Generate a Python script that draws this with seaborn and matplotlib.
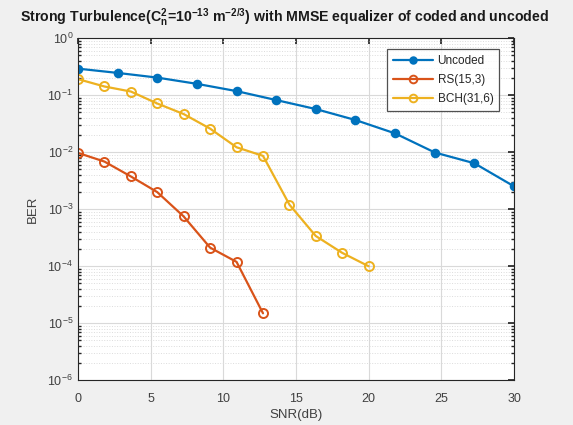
import numpy as np
import pandas as pd
import matplotlib
matplotlib.use("Agg")
import matplotlib.pyplot as plt
import seaborn as sns
from matplotlib.ticker import LogLocator, NullFormatter

snr_uncoded = [0, 2.73, 5.45, 8.18, 10.91, 13.64, 16.36, 19.09, 21.82, 24.55, 27.27, 30]
ber_uncoded = [0.29, 0.244, 0.202, 0.157, 0.117, 0.0815, 0.0567, 0.0364, 0.0212, 0.0098, 0.00635, 0.0025]

snr_rs = [0, 1.82, 3.64, 5.45, 7.27, 9.09, 10.91, 12.73]
ber_rs = [0.00964, 0.00679, 0.00372, 0.00198, 7.4e-4, 2.1e-4, 1.18e-4, 1.48e-5]

snr_bch = [0, 1.82, 3.64, 5.45, 7.27, 9.09, 10.91, 12.73, 14.55, 16.36, 18.18, 20]
ber_bch = [0.19, 0.141, 0.115, 0.071, 0.0463, 0.0257, 0.0121, 0.00855, 0.00119, 3.36e-4, 1.7e-4, 9.9e-5]

labels = ["Uncoded", "RS(15,3)", "BCH(31,6)"]
colors = ["#0072BD", "#D95319", "#EDB120"]

sns.set_theme(style="white")
plt.rcParams['font.family'] = ['Liberation Sans', 'DejaVu Sans']
plt.rcParams['axes.unicode_minus'] = False

fig = plt.figure(figsize=(5.73, 4.25), dpi=100, facecolor="#f0f0f0")
ax = fig.add_axes([78/573, 1-380/425, (514-78)/573, (380-38)/425])
ax.set_facecolor("white")

series = [(snr_uncoded, ber_uncoded), (snr_rs, ber_rs), (snr_bch, ber_bch)]
for i, ((x, y), lab, c) in enumerate(zip(series, labels, colors)):
    df = pd.DataFrame({"SNR": x, "BER": y})
    face = c if i == 0 else "none"
    sns.lineplot(data=df, x="SNR", y="BER", ax=ax, color=c, marker="o",
                 markersize=5.5 if i == 0 else 6.5, markeredgewidth=1.4,
                 markeredgecolor=c, markerfacecolor=face,
                 linewidth=1.6, linestyle="-", dashes=False, label=lab)

ax.set_yscale("log")
ax.set_xlim(0, 30)
ax.set_ylim(1e-6, 1)
ax.set_xticks([0, 5, 10, 15, 20, 25, 30])
ax.yaxis.set_major_locator(LogLocator(base=10, numticks=10))
ax.yaxis.set_minor_locator(LogLocator(base=10, subs=np.arange(2, 10), numticks=20))
ax.yaxis.set_minor_formatter(NullFormatter())

ax.grid(True, which="major", color="#d9d9d9", linewidth=0.8, linestyle="-")
ax.grid(True, which="minor", axis="y", color="#dcdcdc", linewidth=0.7, linestyle=":")
ax.set_axisbelow(True)

for s in ax.spines.values():
    s.set_color("#262626")
    s.set_linewidth(0.8)
    s.set_visible(True)
ax.tick_params(which="both", direction="in", top=True, right=True, colors="#262626",
               labelsize=9, labelcolor="#404040")
ax.tick_params(which="major", length=4)
ax.tick_params(which="minor", length=2, left=True, right=True)
ax.tick_params(axis="x", pad=9)

ax.set_xlabel("SNR(dB)", fontsize=9.5, color="#404040", labelpad=3)
ax.set_ylabel("BER", fontsize=9.5, color="#404040", labelpad=6)

fig.text(20/573, 1-17/425,
         r"Strong Turbulence(C$\mathregular{_n^2}$=10$^{\mathregular{-13}}$ m$^{\mathregular{-2/3}}$) with MMSE equalizer of coded and uncoded",
         fontsize=10.2, fontweight="bold", color="#1a1a1a", ha="left", va="center")

leg = ax.legend(loc="upper right", bbox_to_anchor=(0.98, 0.985), fontsize=8.5,
                frameon=True, fancybox=False, edgecolor="#262626",
                borderpad=0.5, labelspacing=0.6, handlelength=3.4, handletextpad=0.4,
                markerscale=0.85)
leg.get_frame().set_linewidth(0.9)

fig.savefig("out.png", dpi=100, facecolor=fig.get_facecolor())
